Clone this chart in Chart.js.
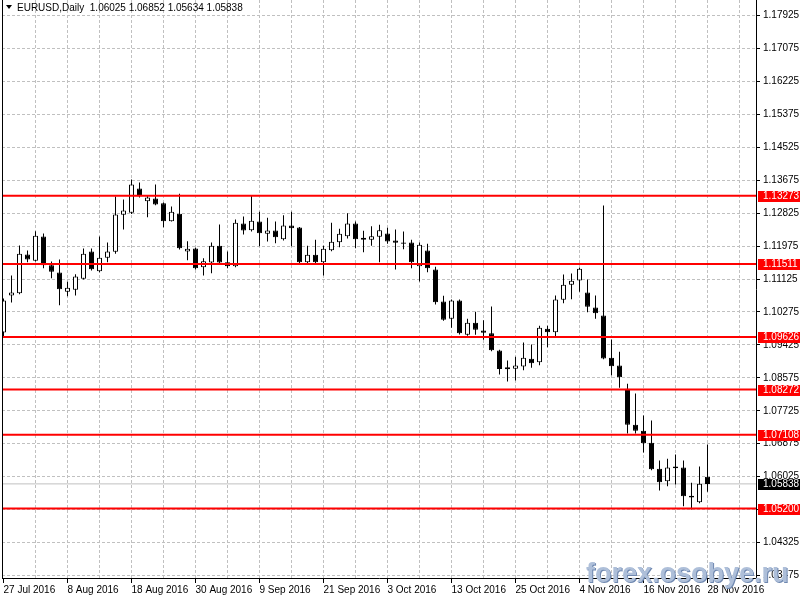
<!DOCTYPE html>
<html>
<head>
<meta charset="utf-8">
<title>EURUSD Daily</title>
<script src="https://cdn.jsdelivr.net/npm/chart.js@4.4.1/dist/chart.umd.min.js"></script>
<style>
  html, body { margin: 0; padding: 0; background: #fff; }
  canvas { display: block; }
</style>
</head>
<body>
<canvas id="chart" width="800" height="600"></canvas>
<script>
const symbol = 'EURUSD,Daily';
const watermark = 'forex.osobye.ru';

// one label every 8 bars, starting at the first bar
const dateLabels = ['27 Jul 2016', '8 Aug 2016', '18 Aug 2016', '30 Aug 2016', '9 Sep 2016', '21 Sep 2016',
    '3 Oct 2016', '13 Oct 2016', '25 Oct 2016', '4 Nov 2016', '16 Nov 2016', '28 Nov 2016'];

const opens = [
    1.09745, 1.10699, 1.10759, 1.11757, 1.11595, 1.12222, 1.11481, 1.11293, 1.10795, 1.10846,
    1.11130, 1.11835, 1.11327, 1.11672, 1.11828, 1.12783, 1.12834, 1.13461, 1.13133, 1.13203,
    1.13081, 1.12617, 1.12807, 1.11835, 1.11912, 1.11430, 1.11551, 1.11982, 1.11559, 1.11455,
    1.12557, 1.12385, 1.12609, 1.12291, 1.12377, 1.12152, 1.12506, 1.12454, 1.11559, 1.11749,
    1.11559, 1.11868, 1.12075, 1.12230, 1.12557, 1.12135, 1.12137, 1.12214, 1.12299, 1.12119,
    1.12067, 1.12067, 1.11455, 1.11861, 1.11370, 1.10544, 1.10098, 1.10570, 1.09685, 1.09995,
    1.09796, 1.09726, 1.09280, 1.08849, 1.08806, 1.08867, 1.09066, 1.08978, 1.09840, 1.09752,
    1.10588, 1.10976, 1.11086, 1.10777, 1.10390, 1.10183, 1.09091, 1.08893, 1.08291, 1.07362,
    1.07208, 1.06898, 1.06227, 1.05907, 1.06286, 1.06260, 1.05529, 1.05365, 1.06025
];
const highs = [
    1.10622, 1.11216, 1.11989, 1.11861, 1.12359, 1.12299, 1.11577, 1.11628, 1.11053, 1.11249,
    1.11912, 1.11912, 1.12222, 1.12067, 1.13254, 1.13177, 1.13693, 1.13616, 1.13272, 1.13564,
    1.13100, 1.12996, 1.13324, 1.12101, 1.11930, 1.11662, 1.12067, 1.12532, 1.11835, 1.12661,
    1.12738, 1.13280, 1.12859, 1.12704, 1.12609, 1.12772, 1.12859, 1.12470, 1.11982, 1.12137,
    1.11982, 1.12575, 1.12420, 1.12823, 1.12609, 1.12369, 1.12488, 1.12524, 1.12446, 1.12403,
    1.12351, 1.12137, 1.12067, 1.12034, 1.11440, 1.10692, 1.10596, 1.10596, 1.10098, 1.10279,
    1.10062, 1.10416, 1.09300, 1.09022, 1.09120, 1.09486, 1.09435, 1.09917, 1.09917, 1.10699,
    1.11241, 1.11267, 1.11414, 1.11112, 1.10699, 1.13022, 1.09564, 1.09246, 1.08420, 1.08170,
    1.07602, 1.07473, 1.06441, 1.06485, 1.06596, 1.06441, 1.05866, 1.06286, 1.06852
];
const lows = [
    1.09616, 1.10518, 1.10733, 1.11559, 1.11578, 1.11404, 1.11146, 1.10449, 1.10681, 1.10699,
    1.11112, 1.11345, 1.11300, 1.11559, 1.11776, 1.12403, 1.12800, 1.13228, 1.12720, 1.13030,
    1.12462, 1.12608, 1.11887, 1.11610, 1.11370, 1.11216, 1.11276, 1.11520, 1.11404, 1.11430,
    1.12274, 1.12351, 1.11972, 1.12093, 1.12049, 1.12119, 1.11972, 1.11530, 1.11540, 1.11540,
    1.11216, 1.11843, 1.11946, 1.12170, 1.11920, 1.11817, 1.11982, 1.11559, 1.12034, 1.11370,
    1.11894, 1.11404, 1.11061, 1.11300, 1.10467, 1.10046, 1.09866, 1.09693, 1.09660, 1.09685,
    1.09556, 1.09260, 1.08660, 1.08480, 1.08506, 1.08771, 1.08833, 1.08901, 1.09365, 1.09607,
    1.10500, 1.10604, 1.10795, 1.10268, 1.10098, 1.09055, 1.08642, 1.08317, 1.07138, 1.07138,
    1.06648, 1.06191, 1.05667, 1.05778, 1.05822, 1.05262, 1.05177, 1.05340, 1.05634
];
const closes = [
    1.10570, 1.10777, 1.11776, 1.11628, 1.12240, 1.11481, 1.11311, 1.10862, 1.10898, 1.11189,
    1.11776, 1.11378, 1.11672, 1.11835, 1.12790, 1.12893, 1.13564, 1.13262, 1.13228, 1.13048,
    1.12617, 1.12859, 1.11920, 1.11904, 1.11404, 1.11584, 1.11982, 1.11551, 1.11455, 1.12575,
    1.12377, 1.12628, 1.12307, 1.12377, 1.12204, 1.12506, 1.12436, 1.11559, 1.11749, 1.11559,
    1.11904, 1.12085, 1.12292, 1.12557, 1.12152, 1.12187, 1.12230, 1.12385, 1.12093, 1.12059,
    1.12034, 1.11559, 1.12008, 1.11404, 1.10526, 1.10072, 1.10570, 1.09726, 1.09995, 1.09814,
    1.09737, 1.09288, 1.08802, 1.08797, 1.08893, 1.09092, 1.08952, 1.09866, 1.09753, 1.10596,
    1.10976, 1.11079, 1.11388, 1.10408, 1.10243, 1.09073, 1.08875, 1.08591, 1.07362, 1.07208,
    1.06888, 1.06217, 1.05881, 1.06260, 1.06243, 1.05520, 1.05486, 1.05840, 1.05838
];

// horizontal support / resistance levels (red)
const levels = [1.13273, 1.11511, 1.09626, 1.08272, 1.07108, 1.05200];

const priceTicks = [1.17925, 1.17075, 1.16225, 1.15375, 1.14525, 1.13675, 1.12825, 1.11975, 1.11125,
    1.10275, 1.09425, 1.08575, 1.07725, 1.06875, 1.06025, 1.05175, 1.04325, 1.03475];

// visible range: 8 px per bar, chart shifted away from the right edge
const xMin = -0.1875;
const xMax = 94.0625;
const yMin = 1.03409;
const yMax = 1.18325;

const FONT = 'Liberation Sans';
const last = closes.length - 1;

const wickData = lows.map((l, i) => ({ x: i, y: [l, highs[i]] }));
const bodyData = opens.map((o, i) => ({ x: i, y: [o, closes[i]] }));
const bodyColors = opens.map((o, i) => closes[i] >= o ? '#ffffff' : '#000000');

const levelSets = levels.map(lv => ({
    type: 'line',
    data: [{ x: xMin, y: lv }, { x: xMax, y: lv }],
    borderColor: '#ff0000',
    borderWidth: 2,
    pointRadius: 0,
    order: 0
}));

const overlay = {
    id: 'overlay',
    afterDraw(chart) {
        const ctx = chart.ctx;
        const area = chart.chartArea;
        const y = chart.scales.y;

        // left frame
        ctx.save();
        ctx.strokeStyle = '#000';
        ctx.lineWidth = 1;
        ctx.beginPath();
        ctx.moveTo(area.left + 0.5, area.top);
        ctx.lineTo(area.left + 0.5, area.bottom);
        ctx.stroke();

        // price tags on the axis
        ctx.font = '10px "' + FONT + '"';
        ctx.textBaseline = 'middle';
        ctx.textAlign = 'left';
        const tag = (value, bg) => {
            const py = Math.round(y.getPixelForValue(value));
            ctx.fillStyle = bg;
            ctx.fillRect(area.right + 2, py - 5, 800 - area.right - 2, 11);
            ctx.fillStyle = '#fff';
            ctx.fillText(value.toFixed(5), area.right + 7, py + 0.5);
        };
        levels.forEach(lv => tag(lv, '#ff0000'));
        tag(closes[last], '#000000');

        // header
        ctx.fillStyle = '#000';
        ctx.beginPath();
        ctx.moveTo(6, 5);
        ctx.lineTo(12, 5);
        ctx.lineTo(9, 9);
        ctx.closePath();
        ctx.fill();
        ctx.fillText(symbol + '  ' + [opens[last], highs[last], lows[last], closes[last]].map(v => v.toFixed(5)).join(' '), 17, 8);

        // watermark
        ctx.font = 'bold 27px "' + FONT + '"';
        ctx.textBaseline = 'alphabetic';
        ctx.fillStyle = '#6f88b0';
        ctx.fillText(watermark, 587, 583);
        ctx.fillStyle = '#aebfd9';
        ctx.fillText(watermark, 586, 582);
        ctx.restore();
    }
};

const ctx = document.getElementById('chart').getContext('2d');
new Chart(ctx, {
    type: 'bar',
    data: {
        datasets: [
            ...levelSets,
            {
                type: 'line',
                data: [{ x: xMin, y: closes[last] }, { x: xMax, y: closes[last] }],
                borderColor: '#c0c0c0',
                borderWidth: 1,
                pointRadius: 0,
                order: 4
            },
            {
                label: 'wicks',
                data: wickData,
                backgroundColor: '#000',
                borderWidth: 0,
                barThickness: 1,
                grouped: false,
                inflateAmount: 0,
                order: 3
            },
            {
                label: 'bodies',
                data: bodyData,
                backgroundColor: bodyColors,
                borderColor: '#000',
                borderWidth: 1,
                borderSkipped: false,
                barThickness: 5,
                minBarLength: 1,
                grouped: false,
                inflateAmount: 0,
                order: 2
            }
        ]
    },
    options: {
        responsive: false,
        animation: false,
        events: [],
        layout: { padding: { left: 2, top: 0, right: 0, bottom: 0 } },
        plugins: {
            legend: { display: false },
            tooltip: { enabled: false },
            title: { display: false }
        },
        scales: {
            x: {
                type: 'linear',
                offset: false,
                min: xMin,
                max: xMax,
                afterBuildTicks: s => {
                    s.ticks = [];
                    for (let i = 0; i <= 92; i += 4) s.ticks.push({ value: i });
                },
                afterFit: s => {
                    s.height = 22;
                    s.paddingLeft = 0;
                    s.paddingRight = 0;
                },
                ticks: {
                    autoSkip: false,
                    maxRotation: 0,
                    align: 'start',
                    padding: 1,
                    color: '#000',
                    font: { family: FONT, size: 10 },
                    callback: v => v % 8 === 0 ? dateLabels[v / 8] : ''
                },
                grid: {
                    offset: false,
                    color: c => (c.tick && c.tick.value === 0) ? 'rgba(0,0,0,0)' : '#c0c0c0',
                    tickLength: 5,
                    tickColor: c => (c.tick && c.tick.value % 8 === 0) ? '#000' : 'rgba(0,0,0,0)'
                },
                border: { display: true, color: '#000', dash: [3, 2] }
            },
            y: {
                type: 'linear',
                position: 'right',
                min: yMin,
                max: yMax,
                afterBuildTicks: s => { s.ticks = priceTicks.map(v => ({ value: v })); },
                afterFit: s => {
                    s.width = 44;
                    s.paddingTop = 0;
                    s.paddingBottom = 0;
                },
                ticks: {
                    padding: 3,
                    color: '#000',
                    font: { family: FONT, size: 10 },
                    callback: v => v.toFixed(5)
                },
                grid: {
                    color: '#c0c0c0',
                    tickLength: 4,
                    tickColor: '#000'
                },
                border: { display: true, color: '#000', dash: [3, 2] }
            }
        }
    },
    plugins: [overlay]
});
</script>
</body>
</html>
